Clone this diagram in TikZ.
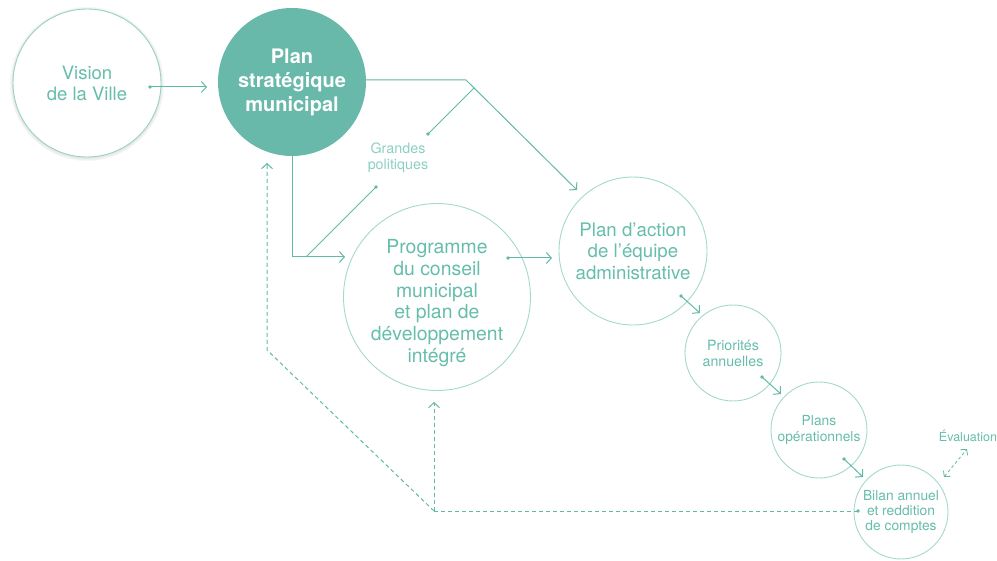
\documentclass[tikz,border=0pt]{standalone}
\usepackage{fontspec}
\setmainfont{TeX Gyre Heros}
\usetikzlibrary{arrows.meta}
\definecolor{lnc}{HTML}{62B9A7}
\definecolor{ringc}{HTML}{A3D8CC}
\definecolor{txtc}{HTML}{66BDAB}
\definecolor{lightc}{HTML}{8CD0C2}
\definecolor{planfill}{HTML}{68B9AA}
\tikzset{
  ringnode/.style={circle, draw=ringc, line width=0.9pt, inner sep=0pt, text=txtc, align=center},
  conn/.style={draw=lnc, line width=1pt},
  arr/.style={conn, -{Straight Barb[length=5pt,width=11pt,line width=1pt]}},
  dasharr/.style={conn, dash pattern=on 4pt off 3pt, -{Straight Barb[length=5pt,width=11pt,line width=1pt]}},
  dashline/.style={conn, dash pattern=on 4pt off 3pt},
  dotmark/.style={fill=lnc}
}
\begin{document}
\begin{tikzpicture}[x=1pt,y=-1pt]
\useasboundingbox (0,0) rectangle (997,561);
% soft shadow of the Vision circle
\foreach \k in {1,...,4}{\fill[black,opacity=0.022] (87,84) circle ({74+\k*0.8});}
\fill[white] (87,83) circle (74);
% nodes
\node[ringnode, draw=ringc!80!lnc, minimum size=148pt, font=\fontsize{18.5}{21}\selectfont] (vision) at (87,83) {Vision\\de la Ville};
\node[circle, fill=planfill, minimum size=148pt, inner sep=0pt, text=white, align=center, font=\bfseries\fontsize{20}{24}\selectfont] (plan) at (292,82) {Plan\\stratégique\\municipal};
\node[text=lightc, align=center, font=\fontsize{14.3}{16}\selectfont] (gp) at (398,158) {Grandes\\politiques};
\node[ringnode, minimum size=187pt,
  label={[text=txtc, align=center, font=\fontsize{19.4}{21.7}\selectfont, yshift=-6pt]center:Programme\\du conseil\\municipal\\et plan de\\développement\\intégré}] (prog) at (437,297) {};
\node[ringnode, minimum size=148pt, font=\fontsize{18.7}{21.5}\selectfont] (action) at (633,251) {Plan d’action\\de l’équipe\\administrative};
\node[ringnode, minimum size=96pt, font=\fontsize{14.2}{16}\selectfont] (prio) at (733,353) {Priorités\\annuelles};
\node[ringnode, minimum size=96pt, font=\fontsize{13.8}{16}\selectfont] (ops) at (819,430) {Plans\\opérationnels};
\node[ringnode, minimum size=94pt, font=\fontsize{13.8}{14.6}\selectfont] (bilan) at (901,512) {Bilan annuel\\et reddition\\de comptes};
\node[text=txtc, font=\fontsize{12.5}{14}\selectfont] (eval) at (968,436) {Évaluation};
% coordinates
\coordinate (d1) at (150,87);
\coordinate (t1) at (207,87);
\coordinate (k1) at (466,80);
\coordinate (t2) at (577,190);
\coordinate (b1) at (474,88);
\coordinate (g1) at (428,134);
\coordinate (k2) at (292,257);
\coordinate (t3) at (345,257);
\coordinate (b2) at (306,257);
\coordinate (g2) at (376,187);
\coordinate (d4) at (508,258);
\coordinate (t4) at (552,258);
\coordinate (d5) at (681,296);
\coordinate (t5) at (700,313);
\coordinate (d6) at (762,377);
\coordinate (t6) at (781,394);
\coordinate (d7) at (844,459);
\coordinate (t7) at (863,477);
\coordinate (d8) at (858,511);
\coordinate (k8) at (434,511);
\coordinate (t8) at (434,402);
\coordinate (k9) at (267,350);
\coordinate (t9) at (267,163);
\coordinate (e1) at (944,477);
\coordinate (e2) at (967,449);
% connectors
\draw[arr] (d1) -- (t1);
\draw[arr] (plan.east |- k1) -- (k1) -- (t2);
\draw[conn] (b1) -- (g1);
\draw[arr] (plan.south) -- (k2) -- (t3);
\draw[conn] (b2) -- (g2);
\draw[arr] (d4) -- (t4);
\draw[arr] (d5) -- (t5);
\draw[arr] (d6) -- (t6);
\draw[arr] (d7) -- (t7);
\draw[dashline] (d8) -- (k8);
\draw[dasharr] (k8) -- (t8);
\draw[dasharr] (k8) -- (k9) -- (t9);
\draw[conn, dash pattern=on 3pt off 2.5pt, line width=0.8pt, {Straight Barb[length=4pt,width=9pt,line width=0.8pt]}-{Straight Barb[length=4pt,width=9pt,line width=0.8pt]}] (e1) -- (e2);
% dots
\foreach \p in {d1,g1,g2,d4,d5,d6,d7,d8}{\fill[dotmark] (\p) circle (1.9);}
\end{tikzpicture}
\end{document}
